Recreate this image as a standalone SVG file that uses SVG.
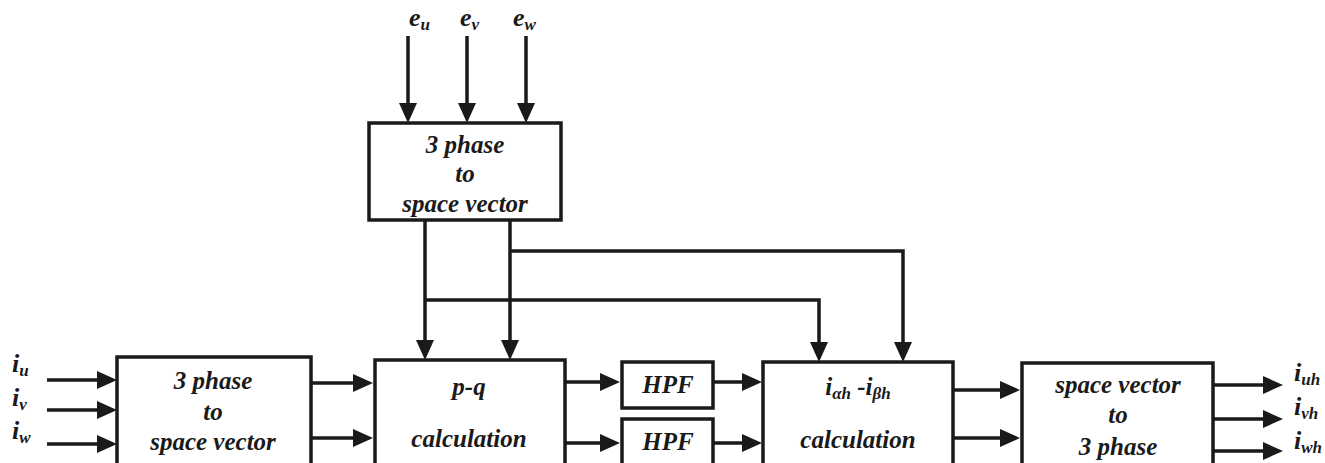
<svg xmlns="http://www.w3.org/2000/svg" width="1325" height="463" viewBox="0 0 1325 463">
<style>
.box{fill:#fff;stroke:#1a1a1a;stroke-width:3.5}
.ln{fill:none;stroke:#1a1a1a;stroke-width:3.5}
.arr{marker-end:url(#ah)}
.t{font-size:25px;text-anchor:middle}
.lab{font-size:26px}
.sub{font-size:17px}
</style>
<defs>
<marker id="ah" markerUnits="userSpaceOnUse" markerWidth="22" markerHeight="20" refX="5" refY="9" orient="auto">
<path d="M0,0 L20,9 L0,18 z" fill="#1a1a1a"/>
</marker>
</defs>
<rect width="1325" height="463" fill="#fff"/>
<g id="connectors">
<line class="ln arr" x1="408" y1="36" x2="408" y2="108"/>
<line class="ln arr" x1="467" y1="36" x2="467" y2="108"/>
<line class="ln arr" x1="526" y1="36" x2="526" y2="108"/>
<line class="ln arr" x1="47" y1="380" x2="102" y2="380"/>
<line class="ln arr" x1="47" y1="410" x2="102" y2="410"/>
<line class="ln arr" x1="47" y1="444" x2="102" y2="444"/>
<line class="ln arr" x1="311" y1="383" x2="358" y2="383"/>
<line class="ln arr" x1="311" y1="438" x2="358" y2="438"/>
<line class="ln arr" x1="425" y1="220" x2="425" y2="345"/>
<line class="ln arr" x1="510" y1="220" x2="510" y2="345"/>
<polyline class="ln arr" points="425,300 819,300 819,347"/>
<polyline class="ln arr" points="510,251 903,251 903,347"/>
<line class="ln arr" x1="566" y1="382" x2="605" y2="382"/>
<line class="ln arr" x1="566" y1="443" x2="605" y2="443"/>
<line class="ln arr" x1="714" y1="382" x2="747" y2="382"/>
<line class="ln arr" x1="714" y1="443" x2="747" y2="443"/>
<line class="ln arr" x1="954" y1="390" x2="1005" y2="390"/>
<line class="ln arr" x1="954" y1="438" x2="1005" y2="438"/>
<line class="ln arr" x1="1214" y1="385" x2="1268" y2="385"/>
<line class="ln arr" x1="1214" y1="419" x2="1268" y2="419"/>
<line class="ln arr" x1="1214" y1="451" x2="1268" y2="451"/>
</g>
<g font-family="Liberation Serif, Times New Roman, Times, serif" font-weight="bold" font-style="italic" fill="#1a1a1a">
<g id="labels">
<text class="lab" x="409" y="26">e<tspan class="sub" dy="4">u</tspan></text>
<text class="lab" x="460" y="26">e<tspan class="sub" dy="4">v</tspan></text>
<text class="lab" x="513" y="26">e<tspan class="sub" dy="4">w</tspan></text>
<text class="lab" x="12" y="372">i<tspan class="sub" dy="4">u</tspan></text>
<text class="lab" x="12" y="406">i<tspan class="sub" dy="4">v</tspan></text>
<text class="lab" x="12" y="439">i<tspan class="sub" dy="4">w</tspan></text>
<text class="lab" x="1294" y="381">i<tspan class="sub" dy="4">uh</tspan></text>
<text class="lab" x="1294" y="415">i<tspan class="sub" dy="4">vh</tspan></text>
<text class="lab" x="1294" y="449">i<tspan class="sub" dy="4">wh</tspan></text>
</g>
<g id="n_top">
<rect class="box" x="369" y="123" width="192" height="97"/>
<text class="t" x="465" y="153">3 phase</text>
<text class="t" x="465" y="182">to</text>
<text class="t" x="465" y="212">space vector</text>
</g>
<g id="n_in">
<rect class="box" x="117" y="357" width="194" height="115"/>
<text class="t" x="213" y="389">3 phase</text>
<text class="t" x="213" y="420">to</text>
<text class="t" x="213" y="450">space vector</text>
</g>
<g id="n_pq">
<rect class="box" x="375" y="360" width="190" height="115"/>
<text class="t" x="469" y="395">p-q</text>
<text class="t" x="469" y="447">calculation</text>
</g>
<g id="n_hpf1">
<rect class="box" x="622" y="362" width="91" height="46"/>
<text class="t" x="668" y="393">HPF</text>
</g>
<g id="n_hpf2">
<rect class="box" x="622" y="419" width="91" height="50"/>
<text class="t" x="668" y="450">HPF</text>
</g>
<g id="n_ic">
<rect class="box" x="763" y="362" width="190" height="115"/>
<text class="t" x="858" y="395">i<tspan class="sub" dy="4">αh</tspan><tspan dy="-4"> -i</tspan><tspan class="sub" dy="4">βh</tspan></text>
<text class="t" x="858" y="448">calculation</text>
</g>
<g id="n_out">
<rect class="box" x="1022" y="363" width="191" height="115"/>
<text class="t" x="1118" y="393">space vector</text>
<text class="t" x="1118" y="423">to</text>
<text class="t" x="1118" y="455">3 phase</text>
</g>
</g>
</svg>
